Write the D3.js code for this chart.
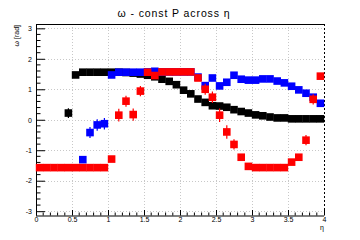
<!DOCTYPE html>
<html>
<head>
<meta charset="utf-8">
<script src="https://cdn.jsdelivr.net/npm/d3@7"></script>
<style>
  body { margin: 0; background: #fff; }
  text { font-family: "Liberation Sans", Arial, sans-serif; fill: #000; }
</style>
</head>
<body>
<div id="chart"></div>
<script>
// eta bin centres
const etaBins = [0.05,0.15,0.25,0.35,0.45,0.55,0.65,0.75,0.85,0.95,
                 1.05,1.15,1.25,1.35,1.45,1.55,1.65,1.75,1.85,1.95,
                 2.05,2.15,2.25,2.35,2.45,2.55,2.65,2.75,2.85,2.95,
                 3.05,3.15,3.25,3.35,3.45,3.55,3.65,3.75,3.85,3.95];

const blackVals = [null,null,null,null,0.22,1.47,1.56,1.56,1.56,1.56,
                   1.56,1.56,1.55,1.53,1.50,1.46,1.41,1.33,1.26,1.15,
                   0.97,0.85,0.68,0.57,0.46,0.45,0.41,0.33,0.27,0.22,
                   0.16,0.13,0.09,0.06,0.06,0.03,0.03,0.03,0.03,0.03];
const blackErr  = [0,0,0,0,0.16,0.02,0.02,0.02,0.02,0.02,
                   0.02,0.02,0.02,0.02,0.02,0.02,0.02,0.02,0.02,0.02,
                   0.02,0.02,0.02,0.02,0.02,0.02,0.02,0.02,0.02,0.02,
                   0.02,0.02,0.02,0.02,0.02,0.02,0.02,0.02,0.02,0.02];

const blueVals = [null,null,null,null,null,null,-1.31,-0.42,-0.17,-0.13,
                  1.47,1.56,1.56,1.56,1.56,1.57,1.59,1.57,1.57,1.57,
                  1.57,1.57,1.40,1.12,1.37,1.11,1.23,1.46,1.33,1.30,
                  1.30,1.34,1.34,1.27,1.21,1.10,0.98,0.87,0.74,0.54];
const blueErr  = [0,0,0,0,0,0,0.02,0.18,0.19,0.19,
                  0.02,0.02,0.02,0.02,0.02,0.02,0.02,0.02,0.02,0.02,
                  0.02,0.02,0.02,0.02,0.02,0.02,0.02,0.02,0.02,0.02,
                  0.02,0.02,0.02,0.02,0.02,0.02,0.02,0.02,0.02,0.02];

const redVals = [-1.571,-1.571,-1.571,-1.571,-1.571,-1.571,-1.571,-1.571,-1.571,-1.571,
                 -1.29,0.15,0.61,0.17,0.94,1.56,1.45,1.57,1.57,1.57,
                 1.57,1.57,1.37,1.00,0.74,0.15,-0.40,-0.81,-1.23,-1.53,
                 -1.57,-1.57,-1.57,-1.57,-1.57,-1.39,-1.23,-0.67,0.67,1.43];
const redErr  = [0.02,0.02,0.02,0.02,0.02,0.02,0.02,0.02,0.02,0.02,
                 0.02,0.21,0.18,0.20,0.17,0.02,0.02,0.02,0.02,0.02,
                 0.02,0.02,0.02,0.18,0.19,0.22,0.22,0.17,0.02,0.02,
                 0.02,0.02,0.02,0.02,0.02,0.02,0.02,0.17,0.17,0.02];

const xTicks = [0,0.5,1,1.5,2,2.5,3,3.5,4];
const yTicks = [-3,-2,-1,0,1,2,3];

const width = 360, height = 240;
const plotLeft = 36, plotRight = 324, plotTop = 24, plotBottom = 215.5;

const svg = d3.select("#chart").append("svg")
    .attr("width", width).attr("height", height);

const x = d3.scaleLinear().domain([0, 4]).range([plotLeft, plotRight]);
const y = d3.scaleLinear().domain([-Math.PI, Math.PI]).range([plotBottom, plotTop]);

// grid
const grid = svg.append("g")
    .attr("stroke", "#c8c8c8").attr("stroke-dasharray", "1,2").attr("stroke-width", 1);
xTicks.filter(t => t > 0 && t < 4).forEach(t => {
    grid.append("line").attr("x1", Math.round(x(t)) + 0.5).attr("x2", Math.round(x(t)) + 0.5)
        .attr("y1", plotTop).attr("y2", plotBottom);
});
yTicks.forEach(t => {
    grid.append("line").attr("x1", plotLeft).attr("x2", plotRight)
        .attr("y1", Math.round(y(t)) + 0.5).attr("y2", Math.round(y(t)) + 0.5);
});

// frame
svg.append("line").attr("x1", plotLeft).attr("x2", plotRight).attr("y1", plotTop + 0.5).attr("y2", plotTop + 0.5)
    .attr("stroke", "#000");
svg.append("line").attr("x1", plotRight + 0.5).attr("x2", plotRight + 0.5).attr("y1", plotTop).attr("y2", plotBottom)
    .attr("stroke", "#000").attr("stroke-dasharray", "2,2");

// axes
const xAxis = d3.axisBottom(x).tickValues(xTicks).tickSize(-5.5).tickPadding(3)
    .tickFormat(d => d3.format("")(d));
const gx = svg.append("g").attr("transform", `translate(0,${plotBottom})`).call(xAxis);
gx.select(".domain").attr("d", `M${plotLeft},0.5H${plotRight}`);
gx.selectAll(".tick text").attr("dy", "0.71em").style("font-size", "7px").attr("y", 2);
d3.range(0, 41).map(i => i / 10).forEach(t => {
    if (Math.abs(t * 2 - Math.round(t * 2)) < 1e-6) return;
    gx.append("line").attr("x1", x(t)).attr("x2", x(t)).attr("y1", 0).attr("y2", -3)
        .attr("stroke", "#000");
});

const yAxis = d3.axisLeft(y).tickValues(yTicks).tickSize(-9).tickPadding(3)
    .tickFormat(d => d);
const gy = svg.append("g").attr("transform", `translate(${plotLeft},0)`).call(yAxis);
gy.select(".domain").attr("d", `M0.5,${plotTop}V${plotBottom}`);
gy.selectAll(".tick text").style("font-size", "7px").attr("x", -4);
d3.range(-15, 16).map(i => i / 5).forEach(t => {
    if (Math.abs(t - Math.round(t)) < 1e-6) return;
    gy.append("line").attr("x1", 0).attr("x2", 4.5).attr("y1", y(t)).attr("y2", y(t))
        .attr("stroke", "#000");
});
gx.selectAll("line,path").attr("stroke", "#000");
gy.selectAll("line,path").attr("stroke", "#000");

// series
const series = [
    { vals: blackVals, err: blackErr, color: "#000000" },
    { vals: blueVals, err: blueErr, color: "#0000ff" },
    { vals: redVals, err: redErr, color: "#ff0000" }
];
const ms = 7.6;
series.forEach(s => {
    const pts = etaBins.map((e, i) => ({ x: e, y: s.vals[i], e: s.err[i] })).filter(d => d.y !== null);
    const g = svg.append("g");
    g.selectAll("line").data(pts).enter().append("line")
        .attr("x1", d => x(d.x)).attr("x2", d => x(d.x))
        .attr("y1", d => y(d.y - d.e)).attr("y2", d => y(d.y + d.e))
        .attr("stroke", s.color).attr("stroke-width", 1.2);
    g.selectAll("rect").data(pts).enter().append("rect")
        .attr("x", d => x(d.x) - ms / 2).attr("y", d => y(d.y) - ms / 2)
        .attr("width", ms).attr("height", ms)
        .attr("fill", s.color);
});

// titles
svg.append("text").attr("x", 174).attr("y", 17).attr("text-anchor", "middle")
    .style("font-size", "10.5px").style("letter-spacing", "0.9px")
    .text("\u03c9 - const P across \u03b7");
svg.append("text").attr("transform", `translate(19,${plotTop + 1}) rotate(-90)`)
    .attr("text-anchor", "end").style("font-size", "7px")
    .text("\u03c9 [rad]");
svg.append("text").attr("x", plotRight).attr("y", 230).attr("text-anchor", "end")
    .style("font-size", "7px").text("\u03b7");
</script>
</body>
</html>
